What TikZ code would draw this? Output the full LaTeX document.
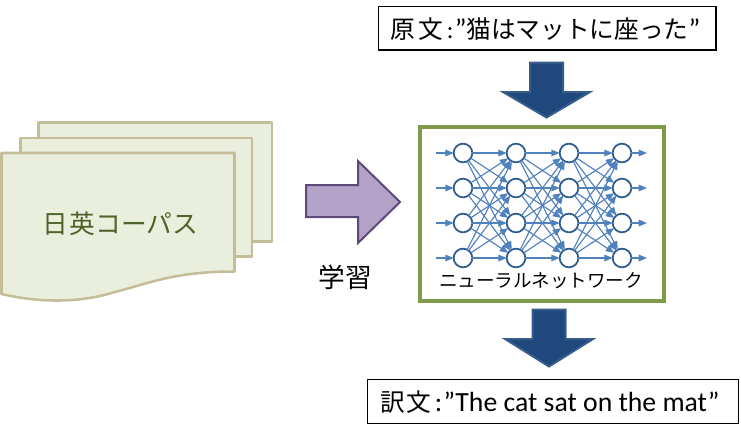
\documentclass[tikz,border=0pt]{standalone}
\usepackage{fontspec}
\setmainfont{Carlito}
\newfontfamily\jp{Noto Sans CJK JP}
\usetikzlibrary{arrows.meta}
\definecolor{sheetfill}{HTML}{EAEFDD}
\definecolor{sheetline}{HTML}{C4BD97}
\definecolor{sheettext}{HTML}{4F6228}
\definecolor{frameg}{HTML}{7F9A48}
\definecolor{edgeblue}{HTML}{4F81BD}
\definecolor{ringblue}{HTML}{2A5A8F}
\definecolor{bigfill}{HTML}{1F497D}
\definecolor{bigline}{HTML}{385D8A}
\definecolor{purplefill}{HTML}{B3A2C7}
\definecolor{purpleline}{HTML}{5F497A}
\tikzset{
  x=0.75pt,y=-0.75pt,
  sheet/.style={draw=sheetline,fill=sheetfill,line width=1.9pt,line join=round},
  neuron/.style={circle,draw=ringblue,fill=white,line width=1.3pt,minimum size=14pt,inner sep=0pt,outer sep=0pt},
  link/.style={draw=edgeblue,line width=0.85pt,-{Triangle[length=6.3pt,width=5pt]}},
  bigarrow/.style={draw=bigline,fill=bigfill,line width=1.5pt,line join=miter},
  txtbox/.style={draw=black,line width=1pt,fill=white,inner sep=0pt,outer sep=0pt,anchor=north west},
}
\begin{document}
\begin{tikzpicture}
\useasboundingbox (0,0) rectangle (741,436);
% sheets
\draw[sheet] (38.5,122.5) rectangle (272,241.5);
\draw[sheet] (20.5,138) rectangle (252,256.5);
\draw[sheet] (1.5,153) -- (234.5,153) -- (234.5,271.5)
  .. controls (175,271.5) and (150,283) .. (115,292)
  .. controls (80,303) and (40,303) .. (1.5,294) -- cycle;
\node[text=sheettext,font=\jp\fontsize{19.3}{23}\selectfont,inner sep=0pt,anchor=west] (corpus) at (42,224) {日\hspace{1.2pt}英コーパス};
% purple arrow
\draw[draw=purpleline,fill=purplefill,line width=1.5pt,line join=miter]
  (306,185) -- (358,185) -- (358,161) -- (400,202) -- (358,243) -- (358,217) -- (306,217) -- cycle;
\node[font=\jp\fontsize{20}{24}\selectfont,inner sep=0pt] (learn) at (345.5,277) {学習};
% network frame
\node[draw=frameg,line width=2.3pt,fill=white,minimum width=183pt,minimum height=130.5pt,inner sep=0pt] (frame) at (542,214) {};
% neurons
\foreach \c/\x in {1/463,2/516,3/569,4/622}{
  \foreach \r/\y in {1/153,2/188,3/223,4/258}{
    \node[neuron] (n\c\r) at (\x,\y) {};
  }
}
% connectors
\foreach \a/\b in {1/2,2/3,3/4}{
  \foreach \i in {1,2,3,4}{
    \foreach \j in {1,2,3,4}{
      \draw[link] (n\a\i) -- (n\b\j);
    }
  }
}
\foreach \r/\y in {1/153,2/188,3/223,4/258}{
  \coordinate (in\r) at (436,\y);
  \coordinate (out\r) at (647,\y);
  \draw[link] (in\r) -- (n1\r);
  \draw[link] (n4\r) -- (out\r);
}
\node[font=\jp\fontsize{13.9}{17}\selectfont,inner sep=0pt] (nnlabel) at (541,281) {ニューラルネットワーク};
% down arrows
\draw[bigarrow] (530,62.5) -- (563,62.5) -- (563,92) -- (590,92) -- (546.5,117.5) -- (503,92) -- (530,92) -- cycle;
\draw[bigarrow] (532.5,309.5) -- (565.5,309.5) -- (565.5,339) -- (593,339) -- (549,366.5) -- (505,339) -- (532.5,339) -- cycle;
% text boxes
\node[txtbox,minimum width=253pt,minimum height=32.6pt] (src) at (378.5,6.5) {};
\node[font=\fontsize{18.5}{24}\selectfont,inner sep=0pt,anchor=west] (srct) at (390,29) {{\jp 原\hspace{2.5pt}文}\hspace{3pt}:\hspace{1pt}\fontsize{21}{24}\selectfont ”\fontsize{18.5}{24}\selectfont{\jp 猫はマットに座った}\fontsize{21}{24}\selectfont ”};
\node[txtbox,minimum width=278pt,minimum height=33pt] (dst) at (367.5,379.5) {};
\node[font=\fontsize{20.8}{24}\selectfont,inner sep=0pt,anchor=west] (dstt) at (380,402) {{\jp\fontsize{18.5}{24}\selectfont 訳\hspace{1pt}文}\hspace{3pt}:\hspace{1pt}”The cat sat on the mat”};
\end{tikzpicture}
\end{document}
